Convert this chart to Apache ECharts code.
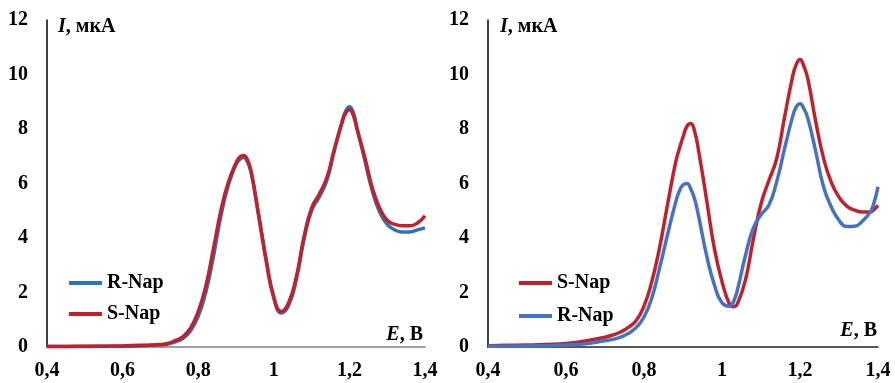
<!DOCTYPE html>
<html>
	<head>
		<meta charset="utf-8">
		<title></title>
		<style>
			html, body { margin: 0; padding: 0; background: #fff; }
			#main { width: 895px; height: 383px; }
		</style>
	</head>
	<body>
		<div id="main"></div>

		<script src="https://cdn.jsdelivr.net/npm/echarts@6/dist/echarts.min.js"></script>
		<script type="text/javascript">
			// potentials, V
			var eLeft = [0.40, 0.45, 0.50, 0.55, 0.60, 0.65, 0.70, 0.72, 0.74, 0.76, 0.78, 0.80, 0.82, 0.84, 0.86, 0.88, 0.90, 0.91, 0.92, 0.93, 0.94, 0.96, 0.98, 1.00,
				1.02, 1.04, 1.06, 1.08, 1.10, 1.12, 1.14, 1.16, 1.18, 1.19, 1.20, 1.21, 1.22, 1.24, 1.26, 1.28, 1.30, 1.32, 1.34, 1.36, 1.38, 1.40];
			var eRight = [0.40, 0.45, 0.50, 0.55, 0.60, 0.65, 0.70, 0.72, 0.74, 0.76, 0.78, 0.80, 0.82, 0.84, 0.86, 0.88, 0.89, 0.90, 0.91, 0.92, 0.93, 0.94, 0.96, 0.98, 1.00,
				1.02, 1.03, 1.04, 1.06, 1.08, 1.10, 1.12, 1.14, 1.16, 1.18, 1.19, 1.20, 1.21, 1.22, 1.24, 1.26, 1.28, 1.30, 1.32, 1.34, 1.36, 1.38, 1.39, 1.40];

			// currents, uA  (left panel)
			var rNapLeft = [0.02, 0.02, 0.02, 0.03, 0.03, 0.05, 0.08, 0.11, 0.19, 0.32, 0.60, 1.12, 2.00, 3.30, 4.80, 5.95, 6.70, 6.88, 6.95, 6.80, 6.40, 4.85, 3.20, 1.85,
				1.25, 1.55, 2.50, 3.95, 5.00, 5.50, 6.10, 7.20, 8.25, 8.65, 8.82, 8.62, 8.05, 6.90, 5.75, 4.95, 4.50, 4.30, 4.22, 4.22, 4.30, 4.37];
			var sNapLeft = [0.02, 0.02, 0.03, 0.03, 0.04, 0.06, 0.09, 0.13, 0.24, 0.38, 0.70, 1.30, 2.22, 3.58, 5.00, 6.05, 6.75, 6.97, 7.03, 6.88, 6.45, 4.82, 3.15, 1.80,
				1.30, 1.65, 2.60, 4.05, 5.10, 5.60, 6.20, 7.25, 8.20, 8.58, 8.72, 8.52, 8.00, 7.00, 5.87, 5.10, 4.65, 4.50, 4.45, 4.45, 4.55, 4.82];

			// currents, uA  (right panel)
			var sNapRight = [0.05, 0.06, 0.07, 0.09, 0.13, 0.22, 0.36, 0.44, 0.55, 0.72, 0.97, 1.50, 2.40, 3.65, 5.20, 6.70, 7.25, 7.70, 8.10, 8.20, 7.90, 7.20, 5.45, 3.65, 2.40,
				1.55, 1.48, 1.60, 2.45, 3.93, 5.25, 6.10, 6.90, 8.40, 9.85, 10.35, 10.55, 10.30, 9.85, 8.30, 6.95, 6.05, 5.50, 5.17, 5.02, 4.95, 4.95, 5.05, 5.20];
			var rNapRight = [0.03, 0.03, 0.04, 0.05, 0.07, 0.12, 0.23, 0.28, 0.36, 0.50, 0.72, 1.10, 1.80, 2.90, 4.10, 5.25, 5.70, 5.95, 6.00, 5.80, 5.42, 4.80, 3.40, 2.30, 1.62,
				1.50, 1.68, 2.12, 3.35, 4.35, 4.85, 5.20, 6.05, 7.25, 8.40, 8.80, 8.93, 8.75, 8.40, 7.20, 5.90, 5.15, 4.65, 4.42, 4.43, 4.62, 4.95, 5.30, 5.88];

			var xTicks = [0.4, 0.6, 0.8, 1.0, 1.2, 1.4];
			var yTicks = [0, 2, 4, 6, 8, 10, 12];

			var serif = "'Liberation Serif', 'Times New Roman', serif";
			var blueL = '#2b74bd';
			var blueR = '#4472c4';
			var red = '#c4202b';

			function pairs(xs, ys) {
				var arr = [];
				for (var i = 0; i < xs.length; i++) {
					arr.push([xs[i], ys[i]]);
				}
				return arr;
			}

			function xAxisOf(idx, lineColor) {
				return {
					gridIndex: idx,
					type: 'value',
					min: xTicks[0],
					max: xTicks[xTicks.length - 1],
					interval: 0.2,
					axisLine: { onZero: false, lineStyle: { color: lineColor, width: 1.5 } },
					axisTick: { show: false },
					splitLine: { show: false },
					axisLabel: {
						margin: 14,
						color: '#000',
						fontFamily: serif,
						fontWeight: 'bold',
						fontSize: 20,
						formatter: function (v) {
							return String(Math.round(v * 10) / 10).replace('.', ',');
						}
					}
				};
			}

			function yAxisOf(idx) {
				return {
					gridIndex: idx,
					type: 'value',
					min: yTicks[0],
					max: yTicks[yTicks.length - 1],
					interval: 2,
					axisLine: { show: true, lineStyle: { color: '#000', width: 1.5 } },
					axisTick: { show: false },
					splitLine: { show: false },
					axisLabel: {
						margin: 19,
						color: '#000',
						fontFamily: serif,
						fontWeight: 'bold',
						fontSize: 20
					}
				};
			}

			function lineSeries(name, idx, data, color) {
				return {
					name: name,
					type: 'line',
					xAxisIndex: idx,
					yAxisIndex: idx,
					data: data,
					smooth: 0.5,
					symbol: 'none',
					lineStyle: { color: color, width: 3.5 },
					itemStyle: { color: color }
				};
			}

			function legendText() {
				return { color: '#000', fontFamily: serif, fontWeight: 'bold', fontSize: 20 };
			}

			function axisTitle(x, y, rich, text, align) {
				return {
					type: 'text',
					x: x,
					y: y,
					style: {
						text: text,
						fill: '#000',
						fontFamily: serif,
						fontWeight: 'bold',
						fontSize: 20,
						align: align,
						verticalAlign: 'middle',
						rich: rich
					}
				};
			}

			var italic = { i: { fontStyle: 'italic', fontFamily: serif, fontWeight: 'bold', fontSize: 20 },
				t: { fontFamily: serif, fontWeight: 'bold', fontSize: 20 } };

			var myChart = echarts.init(document.getElementById('main'));
			var option = {
				animation: false,
				backgroundColor: '#fff',
				grid: [
					{ left: 47, top: 20, width: 378, height: 327 },
					{ left: 488, top: 20, width: 390, height: 327 }
				],
				xAxis: [xAxisOf(0, '#808080'), xAxisOf(1, '#222')],
				yAxis: [yAxisOf(0), yAxisOf(1)],
				legend: [
					{
						orient: 'vertical',
						left: 64,
						top: 268,
						itemGap: 11,
						itemWidth: 33,
						itemHeight: 4,
						icon: 'rect',
						textStyle: legendText(),
						data: [
							{ name: 'R-Nap', itemStyle: { color: blueL } },
							{ name: 'S-Nap', itemStyle: { color: red } }
						]
					},
					{
						orient: 'vertical',
						left: 514,
						top: 268,
						itemGap: 13,
						itemWidth: 33,
						itemHeight: 4,
						icon: 'rect',
						textStyle: legendText(),
						data: [
							{ name: 'S-Nap', itemStyle: { color: red } },
							{ name: 'R-Nap', itemStyle: { color: blueR } }
						]
					}
				],
				graphic: [
					axisTitle(58, 27, italic, '{i|I}{t|, мкА}', 'left'),
					axisTitle(500, 27, italic, '{i|I}{t|, мкА}', 'left'),
					axisTitle(423, 335, italic, '{i|E}{t|, В}', 'right'),
					axisTitle(877, 331, italic, '{i|E}{t|, В}', 'right')
				],
				series: [
					lineSeries('R-Nap', 0, pairs(eLeft, rNapLeft), blueL),
					lineSeries('S-Nap', 0, pairs(eLeft, sNapLeft), red),
					lineSeries('S-Nap', 1, pairs(eRight, sNapRight), red),
					lineSeries('R-Nap', 1, pairs(eRight, rNapRight), blueR)
				]
			};
			myChart.setOption(option);
		</script>
	</body>
</html>
